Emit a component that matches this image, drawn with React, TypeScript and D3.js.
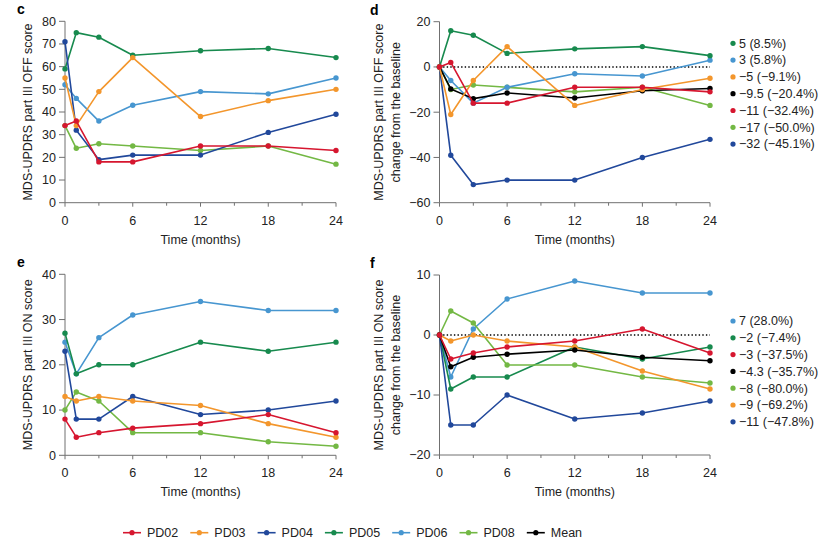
import * as d3 from 'd3';

// time points (months)
const months = [0, 1, 3, 6, 12, 18, 24];

// panel c: OFF score
const offPD02 = [34, 36, 18, 18, 25, 25, 23];
const offPD03 = [55, 34, 49, 64, 38, 45, 50];
const offPD04 = [71, 32, 19, 21, 21, 31, 39];
const offPD05 = [59, 75, 73, 65, 67, 68, 64];
const offPD06 = [52, 46, 36, 43, 49, 48, 55];
const offPD08 = [34, 24, 26, 25, 23, 25, 17];

// panel d: OFF change from baseline
const offChPD02 = [0, 2, -16, -16, -9, -9, -11];
const offChPD03 = [0, -21, -6, 9, -17, -10, -5];
const offChPD04 = [0, -39, -52, -50, -50, -40, -32];
const offChPD05 = [0, 16, 14, 6, 8, 9, 5];
const offChPD06 = [0, -6, -16, -9, -3, -4, 3];
const offChPD08 = [0, -10, -8, -9, -11, -9, -17];
const offChMean = [0, -9.7, -14, -11.5, -13.7, -10.5, -9.5];

// panel e: ON score
const onPD02 = [8, 4, 5, 6, 7, 9, 5];
const onPD03 = [13, 12, 13, 12, 11, 7, 4];
const onPD04 = [23, 8, 8, 13, 9, 10, 12];
const onPD05 = [27, 18, 20, 20, 25, 23, 25];
const onPD06 = [25, 18, 26, 31, 34, 32, 32];
const onPD08 = [10, 14, 12, 5, 5, 3, 2];

// panel f: ON change from baseline
const onChPD02 = [0, -4, -3, -2, -1, 1, -3];
const onChPD03 = [0, -1, 0, -1, -2, -6, -9];
const onChPD04 = [0, -15, -15, -10, -14, -13, -11];
const onChPD05 = [0, -9, -7, -7, -2, -4, -2];
const onChPD06 = [0, -7, 1, 6, 9, 7, 7];
const onChPD08 = [0, 4, 2, -5, -5, -7, -8];
const onChMean = [0, -5.3, -3.7, -3.2, -2.5, -3.7, -4.3];

// legends
const offLegendKeys = ['PD05', 'PD06', 'PD03', 'Mean', 'PD02', 'PD08', 'PD04'];
const offLegendText = ['5 (8.5%)', '3 (5.8%)', '\u22125 (\u22129.1%)', '\u22129.5 (\u221220.4%)', '\u221211 (\u221232.4%)', '\u221217 (\u221250.0%)', '\u221232 (\u221245.1%)'];
const onLegendKeys = ['PD06', 'PD05', 'PD02', 'Mean', 'PD08', 'PD03', 'PD04'];
const onLegendText = ['7 (28.0%)', '\u22122 (\u22127.4%)', '\u22123 (\u221237.5%)', '\u22124.3 (\u221235.7%)', '\u22128 (\u221280.0%)', '\u22129 (\u221269.2%)', '\u221211 (\u221247.8%)'];
const bottomLegend = ['PD02', 'PD03', 'PD04', 'PD05', 'PD06', 'PD08', 'Mean'];

const xTicks = [0, 3, 6, 9, 12, 15, 18, 21, 24];
const xLabels = [0, 6, 12, 18, 24];

const colors: Record<string, string> = {
  PD02: '#d6162f',
  PD03: '#f3962c',
  PD04: '#21489b',
  PD05: '#178a4e',
  PD06: '#4796d0',
  PD08: '#73b844',
  Mean: '#000000',
};

const FONT = '"Liberation Sans", Arial, Helvetica, sans-serif';
const AXIS = '#707070';

type Series = { key: string; values: number[] };

function Panel(props: {
  letter: string;
  letterX: number;
  x0: number;
  x1: number;
  yDomain: [number, number];
  yTop: number;
  yBottom: number;
  yTicks: number[];
  yTitle: string[];
  series: Series[];
  zeroLine?: boolean;
  legendKeys?: string[];
  legendText?: string[];
  legendY?: number;
}) {
  const { x0, x1, yDomain, yTop, yBottom, yTicks, yTitle, series } = props;
  const x = d3.scaleLinear().domain([0, 24]).range([x0, x1]);
  const y = d3.scaleLinear().domain(yDomain).range([yBottom, yTop]);
  const line = d3.line<number>()
    .x((_, i) => x(months[i]))
    .y(d => y(d));
  const midY = (yTop + yBottom) / 2;

  return (
    <g fontFamily={FONT}>
      <text x={props.letterX} y={yTop - 7} fontSize={14} fontWeight="bold">{props.letter}</text>
      {/* y axis */}
      <line x1={x0} x2={x0} y1={y(yDomain[1])} y2={yBottom} stroke={AXIS} strokeWidth={1} />
      {yTicks.map(t => (
        <g key={t}>
          <line x1={x0 - 6} x2={x0} y1={y(t)} y2={y(t)} stroke={AXIS} />
          <text x={x0 - 9} y={y(t)} dy="0.35em" textAnchor="end" fontSize={12.5} fill="#222">
            {t < 0 ? `\u2212${-t}` : t}
          </text>
        </g>
      ))}
      {/* x axis */}
      <line x1={x0} x2={x1} y1={yBottom} y2={yBottom} stroke={AXIS} strokeWidth={1} />
      {xTicks.map(t => (
        <line key={t} x1={x(t)} x2={x(t)} y1={yBottom} y2={yBottom + (t % 6 === 0 ? 4 : 3)} stroke={AXIS} />
      ))}
      {xLabels.map(t => (
        <text key={t} x={x(t)} y={yBottom + 22} textAnchor="middle" fontSize={12.5} fill="#222">{t}</text>
      ))}
      <text x={(x0 + x1) / 2} y={yBottom + 41} textAnchor="middle" fontSize={12.5} fill="#222">Time (months)</text>
      {yTitle.map((t, i) => (
        <text key={i} transform={`translate(${x0 - 33 - (yTitle.length - 1 - i) * 16.5 - (yTitle.length - 1) * 7},${midY}) rotate(-90)`}
          textAnchor="middle" fontSize={12.5} fill="#222">{t}</text>
      ))}
      {props.zeroLine && (
        <line x1={x0} x2={x1} y1={y(0)} y2={y(0)} stroke="#000" strokeWidth={1.4} strokeDasharray="1.4,2.2" />
      )}
      {series.map(s => (
        <g key={s.key}>
          <path d={line(s.values) || ''} fill="none" stroke={colors[s.key]} strokeWidth={1.6} strokeLinejoin="round" />
          {s.values.map((v, i) => (
            <circle key={i} cx={x(months[i])} cy={y(v)} r={2.7} fill={colors[s.key]} />
          ))}
        </g>
      ))}
      {props.legendKeys && props.legendKeys.map((k, i) => (
        <g key={k} transform={`translate(${x1 + 23},${(props.legendY || 0) + i * 16.8})`}>
          <circle cx={0} cy={0} r={2.6} fill={colors[k]} />
          <text x={6} y={0} dy="0.35em" fontSize={12.5} fill="#222">{props.legendText![i]}</text>
        </g>
      ))}
    </g>
  );
}

export default function App() {
  const offSeries: Series[] = [
    { key: 'PD08', values: offPD08 },
    { key: 'PD06', values: offPD06 },
    { key: 'PD05', values: offPD05 },
    { key: 'PD04', values: offPD04 },
    { key: 'PD03', values: offPD03 },
    { key: 'PD02', values: offPD02 },
  ];
  const offChSeries: Series[] = [
    { key: 'PD08', values: offChPD08 },
    { key: 'PD06', values: offChPD06 },
    { key: 'PD05', values: offChPD05 },
    { key: 'PD04', values: offChPD04 },
    { key: 'Mean', values: offChMean },
    { key: 'PD03', values: offChPD03 },
    { key: 'PD02', values: offChPD02 },
  ];
  const onSeries: Series[] = [
    { key: 'PD08', values: onPD08 },
    { key: 'PD06', values: onPD06 },
    { key: 'PD05', values: onPD05 },
    { key: 'PD04', values: onPD04 },
    { key: 'PD03', values: onPD03 },
    { key: 'PD02', values: onPD02 },
  ];
  const onChSeries: Series[] = [
    { key: 'PD06', values: onChPD06 },
    { key: 'PD05', values: onChPD05 },
    { key: 'PD04', values: onChPD04 },
    { key: 'PD08', values: onChPD08 },
    { key: 'PD03', values: onChPD03 },
    { key: 'Mean', values: onChMean },
    { key: 'PD02', values: onChPD02 },
  ];

  const legendX = d3.scaleLinear().domain([0, 1]).range([123, 190.3]);

  return (
    <svg width={830} height={549} style={{ position: 'absolute', left: 0, top: 0 }}>
      <rect width={830} height={549} fill="#fff" />
      <Panel letter="c" letterX={17} x0={65} x1={336} yDomain={[0, 80]} yTop={21.3} yBottom={202.7}
        yTicks={[0, 10, 20, 30, 40, 50, 60, 70, 80]} yTitle={['MDS-UPDRS part III OFF score']} series={offSeries} />
      <Panel letter="d" letterX={370} x0={439.5} x1={710} yDomain={[-60, 20]} yTop={21.7} yBottom={202.7}
        yTicks={[-60, -40, -20, 0, 20]} yTitle={['MDS-UPDRS part III OFF score', 'change from the baseline']}
        series={offChSeries} zeroLine legendKeys={offLegendKeys} legendText={offLegendText} legendY={43.3} />
      <Panel letter="e" letterX={17} x0={65} x1={336} yDomain={[0, 40]} yTop={274.3} yBottom={455.3}
        yTicks={[0, 10, 20, 30, 40]} yTitle={['MDS-UPDRS part III ON score']} series={onSeries} />
      <Panel letter="f" letterX={370} x0={439.5} x1={710} yDomain={[-20, 10]} yTop={275} yBottom={455}
        yTicks={[-20, -10, 0, 10]} yTitle={['MDS-UPDRS part III ON score', 'change from the baseline']}
        series={onChSeries} zeroLine legendKeys={onLegendKeys} legendText={onLegendText} legendY={321} />
      <g fontFamily={FONT}>
        {bottomLegend.map((k, i) => (
          <g key={k} transform={`translate(${legendX(i)},532.7)`}>
            <line x1={0} x2={18} y1={0} y2={0} stroke={colors[k]} strokeWidth={1.6} />
            <circle cx={9} cy={0} r={2.6} fill={colors[k]} />
            <text x={24} y={0} dy="0.35em" fontSize={12.5} fill="#222">{k}</text>
          </g>
        ))}
      </g>
    </svg>
  );
}
